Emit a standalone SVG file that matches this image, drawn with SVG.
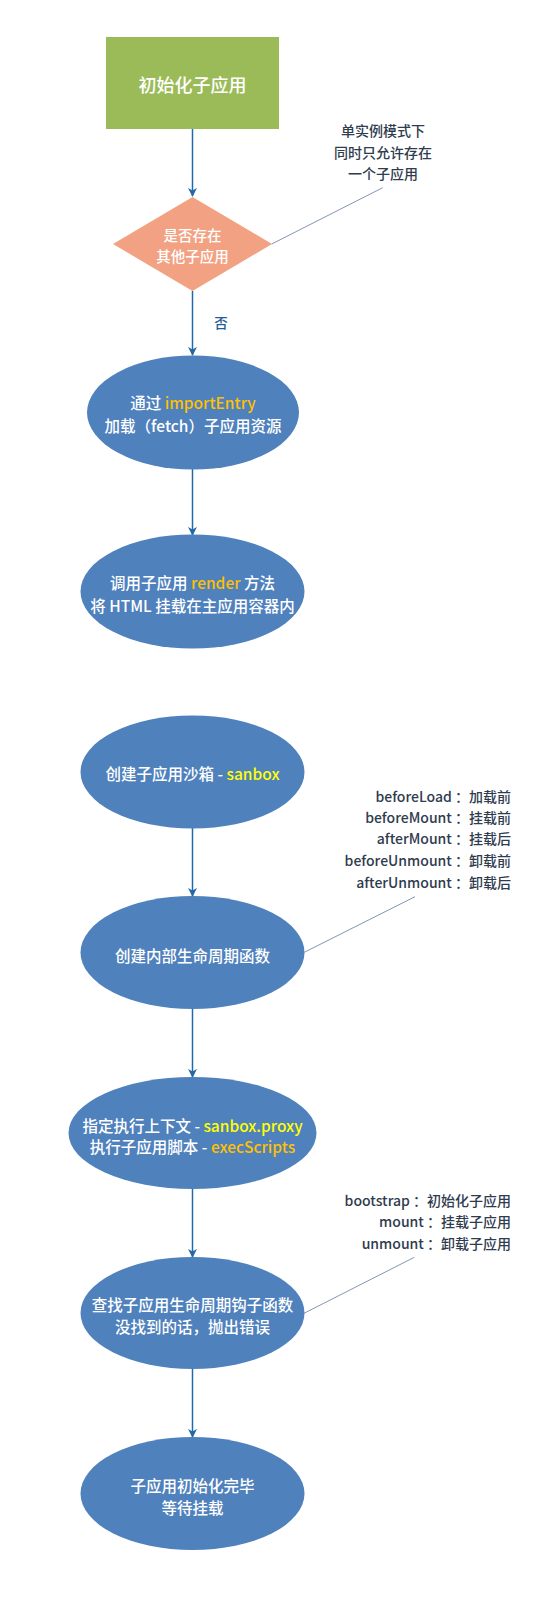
<svg xmlns="http://www.w3.org/2000/svg" width="550" height="1598" viewBox="0 0 550 1598">
<defs>
<marker id="arr" viewBox="0 0 10 10" refX="9" refY="5" markerWidth="9" markerHeight="9" markerUnits="userSpaceOnUse" orient="auto">
<path d="M0,0 L10,5 L0,10 L3,5 Z" fill="#2369a6"/>
</marker>
<style>
text{font-family:"Noto Sans CJK SC","Noto Sans",sans-serif;dominant-baseline:central;text-anchor:middle;font-weight:500}
.w{fill:#ffffff;font-size:15.5px}
.t{fill:#ffffff;font-size:18px}
.d{fill:#ffffff;font-size:14.5px}
.n{fill:#2f3b4e;font-size:14px}
.na{fill:#2f3b4e;font-size:14px;text-anchor:end}
.o{fill:#ffc000}
.y{fill:#ffff00}
.ell{fill:#4f81bd}
.c{stroke:#2369a6;stroke-width:1.5;fill:none}
.a{stroke:#8496b0;stroke-width:1;fill:none}
</style>
</defs>
<g id="connectors">
<line class="c" x1="192.5" y1="129" x2="192.5" y2="196" marker-end="url(#arr)"/>
<line class="c" x1="192.5" y1="291" x2="192.5" y2="355" marker-end="url(#arr)"/>
<line class="c" x1="192.5" y1="469" x2="192.5" y2="535" marker-end="url(#arr)"/>
<line class="c" x1="192.5" y1="828" x2="192.5" y2="896" marker-end="url(#arr)"/>
<line class="c" x1="192.5" y1="1009" x2="192.5" y2="1077" marker-end="url(#arr)"/>
<line class="c" x1="192.5" y1="1189" x2="192.5" y2="1257" marker-end="url(#arr)"/>
<line class="c" x1="192.5" y1="1369" x2="192.5" y2="1437" marker-end="url(#arr)"/>
<text x="221" y="322" style="fill:#1f5c99;font-size:13.5px">否</text>
<line class="a" x1="382.7" y1="187.7" x2="271.7" y2="244"/>
<line class="a" x1="415" y1="896.7" x2="304.3" y2="952.3"/>
<line class="a" x1="414.3" y1="1257.3" x2="304" y2="1313.3"/>
</g>
<g id="n1">
<rect x="106" y="37" width="173" height="92" fill="#9bbb59"/>
<text class="t" x="192.5" y="84">初始化子应用</text>
</g>
<g id="n2">
<polygon points="192.5,197 272,244 192.5,291 113,244" fill="#f2a283"/>
<text class="d" x="192.5" y="234">是否存在</text>
<text class="d" x="192.5" y="255">其他子应用</text>
</g>
<g id="note1">
<text class="n" x="383" y="130">单实例模式下</text>
<text class="n" x="383" y="151.5">同时只允许存在</text>
<text class="n" x="383" y="173">一个子应用</text>
</g>
<g id="n3">
<ellipse class="ell" cx="193" cy="412.5" rx="106" ry="57"/>
<text class="w" x="193" y="402">通过 <tspan class="o">importEntry</tspan></text>
<text class="w" x="193" y="424.5">加载（fetch）子应用资源</text>
</g>
<g id="n4">
<ellipse class="ell" cx="192.5" cy="591.5" rx="112" ry="57"/>
<text class="w" x="192.5" y="582">调用子应用 <tspan class="o">render</tspan> 方法</text>
<text class="w" x="192.5" y="605">将 HTML 挂载在主应用容器内</text>
</g>
<g id="n5">
<ellipse class="ell" cx="192.5" cy="772" rx="112" ry="56.5"/>
<text class="w" x="192.5" y="772.5">创建子应用沙箱 - <tspan class="y">sanbox</tspan></text>
</g>
<g id="note2">
<text class="na" x="511" y="795.5">beforeLoad ：加载前</text>
<text class="na" x="511" y="816.5">beforeMount ：挂载前</text>
<text class="na" x="511" y="838">afterMount ：挂载后</text>
<text class="na" x="511" y="860">beforeUnmount ：卸载前</text>
<text class="na" x="511" y="881.5">afterUnmount ：卸载后</text>
</g>
<g id="n6">
<ellipse class="ell" cx="192.5" cy="952.5" rx="112" ry="56.5"/>
<text class="w" x="192.5" y="954.5">创建内部生命周期函数</text>
</g>
<g id="n7">
<ellipse class="ell" cx="192.5" cy="1133" rx="124" ry="56"/>
<text class="w" x="192.5" y="1124.5">指定执行上下文 - <tspan class="y">sanbox.proxy</tspan></text>
<text class="w" x="192.5" y="1146">执行子应用脚本 - <tspan class="o">execScripts</tspan></text>
</g>
<g id="note3">
<text class="na" x="511" y="1200">bootstrap ：初始化子应用</text>
<text class="na" x="511" y="1221">mount ：挂载子应用</text>
<text class="na" x="511" y="1242.5">unmount ：卸载子应用</text>
</g>
<g id="n8">
<ellipse class="ell" cx="192.5" cy="1313" rx="112" ry="56"/>
<text class="w" x="192.5" y="1303.5">查找子应用生命周期钩子函数</text>
<text class="w" x="192.5" y="1326">没找到的话，抛出错误</text>
</g>
<g id="n9">
<ellipse class="ell" cx="192.5" cy="1493.5" rx="112" ry="56.5"/>
<text class="w" x="192.5" y="1484.5">子应用初始化完毕</text>
<text class="w" x="192.5" y="1506.5">等待挂载</text>
</g>
</svg>
